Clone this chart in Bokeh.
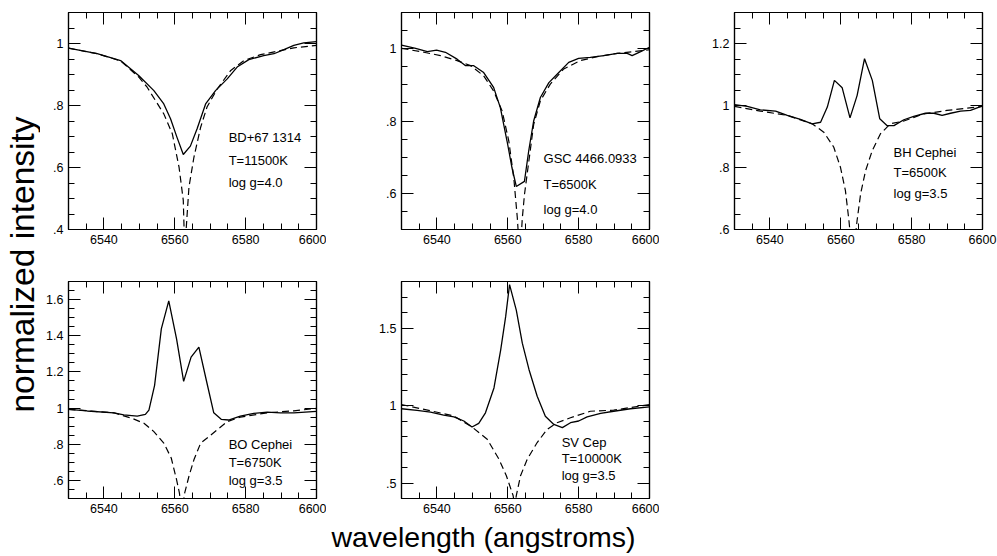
from math import pi

from bokeh.core.properties import value
from bokeh.embed import file_html
from bokeh.layouts import column, row
from bokeh.models import (CustomJSTickFormatter, LinearAxis, Range1d,
                          SingleIntervalTicker)
from bokeh.plotting import figure
from bokeh.resources import INLINE

FONT = "Liberation Sans"

# ---- H-alpha profiles: observed (solid) and model (dashed) -----------------
# BD+67 1314
bd_wl = [6530, 6538.1, 6544.7, 6549.8, 6554.1, 6556.9, 6558.8, 6560.6, 6562.4,
         6564.4, 6566.3, 6568.7, 6571.5, 6574.8, 6577.6, 6580.9, 6585.1, 6588,
         6590.8, 6593.6, 6596.4, 6600]
bd_obs = [0.985, 0.967, 0.945, 0.897, 0.848, 0.805, 0.757, 0.698, 0.642,
          0.669, 0.725, 0.805, 0.848, 0.886, 0.924, 0.948, 0.961, 0.967,
          0.98, 0.994, 1.002, 1.006]
bd_mwl = [6530, 6538.1, 6544.7, 6549.8, 6552.2, 6556.9, 6559.3, 6561.2, 6562.4,
          6562.8, 6564.0, 6565.4, 6567.3, 6569.1, 6572, 6575.8, 6579.5, 6584.2,
          6589, 6593.6, 6600]
bd_mod = [0.985, 0.967, 0.944, 0.892, 0.859, 0.773, 0.709, 0.601, 0.494,
          0.33, 0.537, 0.633, 0.73, 0.795, 0.854, 0.913, 0.945, 0.964,
          0.975, 0.986, 0.994]

# GSC 4466.0933
gsc_wl = [6530, 6534, 6537.3, 6539.9, 6542.4, 6545.7, 6548.1, 6550.4, 6553.2,
          6556, 6557.9, 6559.8, 6561.2, 6562.4, 6564.7, 6565.9, 6567.3, 6569.2,
          6571.6, 6574.4, 6577.2, 6580, 6583.3, 6587.1, 6590.9, 6593.7, 6595.1,
          6597.5, 6600]
gsc_obs = [1.010, 1.001, 0.992, 0.996, 0.99, 0.971, 0.953, 0.953, 0.934,
           0.893, 0.837, 0.744, 0.67, 0.619, 0.633, 0.717, 0.8, 0.865,
           0.906, 0.934, 0.962, 0.973, 0.976, 0.981, 0.987, 0.987, 0.981,
           0.992, 1.004]
gsc_mwl = [6530, 6536.3, 6541, 6545.7, 6549.5, 6553.2, 6556, 6558.4, 6560.3,
           6561.7, 6562.7, 6563.4, 6564.1, 6564.7, 6567.3, 6569.2, 6572,
           6575.8, 6580.5, 6585.2, 6590.9, 6600]
gsc_mod = [1.001, 0.99, 0.981, 0.967, 0.953, 0.925, 0.883, 0.828, 0.744,
           0.642, 0.531, 0.42, 0.531, 0.596, 0.79, 0.856, 0.902,
           0.944, 0.967, 0.978, 0.987, 0.997]

# BH Cephei
bh_wl = [6530, 6533.6, 6537.3, 6541.6, 6544.9, 6548.6, 6551.9, 6554.3, 6556.2,
         6558.2, 6560.4, 6562.6, 6564.6, 6566.7, 6568.9, 6571, 6573.1, 6575,
         6577.8, 6580.6, 6583.9, 6586.3, 6588.6, 6591, 6593.8, 6596.6, 6600]
bh_obs = [1.003, 0.997, 0.986, 0.982, 0.968, 0.955, 0.941, 0.946, 0.995,
          1.081, 1.057, 0.96, 1.032, 1.151, 1.081, 0.957, 0.935, 0.935,
          0.954, 0.965, 0.975, 0.975, 0.968, 0.975, 0.982, 0.984, 0.999]
bh_mwl = [6530, 6537.3, 6544.9, 6551.9, 6555.2, 6558, 6559.9, 6561.3, 6562.3,
          6563.4, 6564.6, 6565.6, 6567, 6568.9, 6571.2, 6574, 6577.8, 6583.4,
          6590, 6600]
bh_mod = [0.997, 0.982, 0.968, 0.941, 0.914, 0.866, 0.801, 0.726, 0.629,
          0.5, 0.629, 0.715, 0.79, 0.855, 0.909, 0.941, 0.95, 0.973,
          0.984, 0.997]

# BO Cephei
bo_wl = [6530, 6535.3, 6542.8, 6545.6, 6549.4, 6551.7, 6552.7, 6554.3, 6556.2,
         6558.3, 6560.5, 6562.5, 6564.6, 6566.8, 6568.9, 6571, 6573.1, 6575.2,
         6578.5, 6582.3, 6586.1, 6589.8, 6593.6, 6600]
bo_obs = [0.993, 0.984, 0.974, 0.962, 0.956, 0.965, 0.989, 1.126, 1.438,
          1.593, 1.383, 1.148, 1.282, 1.337, 1.154, 0.974, 0.938, 0.934,
          0.956, 0.971, 0.978, 0.974, 0.974, 0.982]
bo_mwl = [6530, 6542.8, 6548, 6551.3, 6554.1, 6556.9, 6559, 6560.5, 6561.3,
          6562.0, 6562.8, 6564, 6565.4, 6567.3, 6569.6, 6571.9, 6574.8,
          6578.5, 6586.1, 6593.6, 6600]
bo_mod = [0.993, 0.974, 0.943, 0.916, 0.87, 0.806, 0.724, 0.604, 0.531,
          0.42, 0.531, 0.623, 0.714, 0.806, 0.842, 0.879, 0.925,
          0.95, 0.974, 0.985, 0.998]

# SV Cep
sv_wl = [6530, 6534.4, 6538.2, 6541.9, 6544.8, 6547.6, 6549.9, 6551.8, 6553.7,
         6556.1, 6558, 6559.4, 6560.5, 6562.4, 6564.1, 6566, 6568.3, 6570.6,
         6573, 6575.4, 6577.7, 6580, 6582.4, 6586.2, 6589.9, 6594.6, 6600]
sv_obs = [0.979, 0.968, 0.957, 0.938, 0.927, 0.9, 0.861, 0.885, 0.953,
          1.113, 1.359, 1.573, 1.78, 1.615, 1.402, 1.231, 1.06, 0.931,
          0.878, 0.857, 0.889, 0.9, 0.927, 0.949, 0.963, 0.979, 0.991]
sv_mwl = [6530, 6538.2, 6544.8, 6549.9, 6554.2, 6557.5, 6559.6, 6561.5, 6562.0,
          6562.4, 6563.6, 6565.5, 6568.3, 6571.1, 6573.9, 6577.7, 6583.3,
          6589.9, 6600]
sv_mod = [1.006, 0.966, 0.932, 0.861, 0.782, 0.654, 0.547, 0.419, 0.35,
          0.419, 0.547, 0.654, 0.761, 0.846, 0.889, 0.921, 0.963,
          0.97, 1.006]

# star labels: name, temperature, gravity
labels_bd = ["BD+67 1314", "T=11500K", "log g=4.0"]
labels_gsc = ["GSC 4466.0933", "T=6500K", "log g=4.0"]
labels_bh = ["BH Cephei", "T=6500K", "log g=3.5"]
labels_bo = ["BO Cephei", "T=6750K", "log g=3.5"]
labels_sv = ["SV Cep", "T=10000K", "log g=3.5"]

X_RANGE = (6530, 6600)

TICK_FMT = CustomJSTickFormatter(code="""
    const v = Math.round(tick * 100) / 100;
    let s = String(v);
    if (s.startsWith("0.")) s = s.substring(1);
    return s;
""")


def panel(wl, obs, mwl, mod, ylim, ymajor, yminor_n, label_text, label_x,
          label_y, width, height, left, right, top, bottom):
    p = figure(width=width, height=height, output_backend="svg",
               toolbar_location=None, x_range=Range1d(*X_RANGE),
               y_range=Range1d(*ylim), x_axis_location=None,
               y_axis_location=None, min_border_left=left,
               min_border_right=right, min_border_top=top,
               min_border_bottom=bottom)
    p.grid.visible = False
    p.outline_line_color = "black"
    p.outline_line_width = 1.2
    p.background_fill_color = "white"
    p.border_fill_color = "white"

    xt = SingleIntervalTicker(interval=20, num_minor_ticks=4)
    yt = SingleIntervalTicker(interval=ymajor, num_minor_ticks=yminor_n)

    # labelled axes below/left, tick-only mirrors above/right
    for loc, is_x, show in (("below", True, True), ("above", True, False),
                            ("left", False, True), ("right", False, False)):
        ax = LinearAxis(ticker=xt if is_x else yt)
        ax.axis_line_color = "black"
        ax.axis_line_width = 1.2
        ax.major_tick_in = 12
        ax.major_tick_out = 0
        ax.minor_tick_in = 6
        ax.minor_tick_out = 0
        ax.major_tick_line_color = "black"
        ax.minor_tick_line_color = "black"
        ax.major_tick_line_width = 1
        ax.minor_tick_line_width = 1
        if show:
            ax.formatter = TICK_FMT
            ax.major_label_text_font = FONT
            ax.major_label_text_font_size = "12.5px"
            ax.major_label_text_color = "black"
            ax.major_label_standoff = 5
        else:
            ax.major_label_text_color = None
            ax.major_label_text_font_size = "1px"
            ax.major_label_standoff = 0
        p.add_layout(ax, loc)

    p.line(mwl, mod, line_color="black", line_width=1.2, line_dash="7 4")
    p.line(wl, obs, line_color="black", line_width=1.3)

    p.text(x=[label_x] * 3, y=label_y, text=label_text,
           text_font=value(FONT), text_font_size="13px",
           text_color="black", text_baseline="middle", text_align="left")
    return p


row1_h = 259
row2_h = 259

p1 = panel(bd_wl, bd_obs, bd_mwl, bd_mod, (0.4, 1.1), 0.2, 4,
           labels_bd, 6575.2, [0.697, 0.623, 0.552],
           286, row1_h, 28, 10, 12, 30)
p2 = panel(gsc_wl, gsc_obs, gsc_mwl, gsc_mod, (0.5, 1.1), 0.2, 4,
           labels_gsc, 6570.1, [0.697, 0.625, 0.556],
           333, row1_h, 75, 10, 12, 30)
p3 = panel(bh_wl, bh_obs, bh_mwl, bh_mod, (0.6, 1.3), 0.2, 4,
           labels_bh, 6574.9, [0.848, 0.784, 0.716],
           338, row1_h, 75, 15, 12, 30)
p4 = panel(bo_wl, bo_obs, bo_mwl, bo_mod, (0.5, 1.7), 0.2, 4,
           labels_bo, 6575.2, [0.797, 0.699, 0.599],
           286, row2_h, 28, 10, 22, 20)
p5 = panel(sv_wl, sv_obs, sv_mwl, sv_mod, (0.4, 1.8), 0.5, 5,
           labels_sv, 6575.2, [0.761, 0.658, 0.547],
           333, row2_h, 75, 10, 22, 20)


def text_strip(width, height, x, y, text, angle=0.0, size="31px"):
    p = figure(width=width, height=height, output_backend="svg",
               toolbar_location=None, x_range=Range1d(0, width),
               y_range=Range1d(0, height), x_axis_location=None,
               y_axis_location=None, min_border=0)
    p.grid.visible = False
    p.outline_line_color = None
    p.text(x=[x], y=[y], text=[text], angle=angle, text_font=value(FONT),
           text_font_size=size, text_color="black", text_align="center",
           text_baseline="middle")
    return p


ylab = text_strip(40, row1_h + row2_h, 22, row1_h + row2_h - 264,
                  "normalized intensity", angle=pi / 2, size="33.5px")
xlab = text_strip(997, 38, 483, 38 - 18, "wavelength (angstroms)",
                  size="28.5px")

layout = column(row(ylab, column(row(p1, p2, p3), row(p4, p5))), xlab)

with open("out.html", "w") as f:
    f.write(file_html(layout, INLINE))
